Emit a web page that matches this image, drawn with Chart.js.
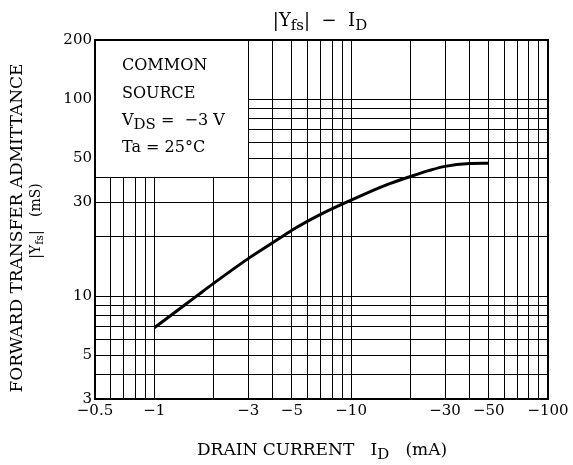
<!DOCTYPE html>
<html><head><meta charset="utf-8">
<script src="https://cdn.jsdelivr.net/npm/chart.js@4/dist/chart.umd.min.js"></script>
<style>html,body{margin:0;padding:0;background:#fff}#wrap{width:573px;height:465px;position:relative}</style>
</head><body><div id="wrap"><canvas id="c"></canvas></div>
<script>
// Data (|ID| in mA, |Yfs| in mS)
const currentMA    = [1,   1.3, 1.64, 2,    3,    4.45, 5,    7,  10,   15,   20,   25,   30,   40,   50];
const admittanceMS = [6.9, 8.4, 10,   11.6, 15.5, 20,   21.6, 26, 30.7, 36.6, 40.5, 43.5, 45.6, 47.1, 47.3];
const xGridValues = [0.5,0.6,0.7,0.8,0.9,1,2,3,4,5,6,7,8,9,10,20,30,40,50,60,70,80,90,100];
const yGridValues = [3,4,5,6,7,8,9,10,20,30,40,50,60,70,80,90,100,200];
const xTickLabels = [0.5,1,3,5,10,30,50,100];
const yTickLabels = [3,5,10,30,50,100,200];
const conditionLines = [
  [{t:'COMMON'}],
  [{t:'SOURCE'}],
  [{t:'V'},{t:'DS',sub:true},{t:' =  −3 V'}],
  [{t:'Ta = 25°C'}]
];

const F = "'DejaVu Serif', serif";
function drawRich(ctx, parts, x, y, size, subSize, subDy, align){
  let w = 0;
  parts.forEach(p => { ctx.font = (p.sub ? subSize : size) + 'px ' + F; w += ctx.measureText(p.t).width; });
  let cx = align === 'center' ? x - w/2 : (align === 'right' ? x - w : x);
  ctx.textAlign = 'left'; ctx.textBaseline = 'alphabetic'; ctx.fillStyle = '#000';
  parts.forEach(p => {
    ctx.font = (p.sub ? subSize : size) + 'px ' + F;
    ctx.fillText(p.t, cx, p.sub ? y + subDy : y);
    cx += ctx.measureText(p.t).width;
  });
}

const deco = {
  id: 'deco',
  beforeDatasetsDraw(chart){
    const {ctx, chartArea: a, scales: {x, y}} = chart;
    const al = v => Math.round(v - 0.5) + 0.5;
    const bx = al(x.getPixelForValue(3)), by = al(y.getPixelForValue(40));
    ctx.save();
    ctx.fillStyle = '#fff';
    ctx.fillRect(a.left, a.top, bx - a.left, by - a.top);
    ctx.strokeStyle = '#000'; ctx.lineWidth = 1;
    ctx.beginPath();
    ctx.moveTo(bx, a.top); ctx.lineTo(bx, by);
    ctx.moveTo(a.left, by); ctx.lineTo(bx, by);
    ctx.stroke();
    ctx.lineWidth = 2;
    ctx.strokeRect(a.left, a.top, a.right - a.left, a.bottom - a.top);
    const base = [70, 98, 125, 152];
    conditionLines.forEach((parts, i) => drawRich(ctx, parts, 122, base[i], 16, 15, 4, 'left'));
    ctx.restore();
  },
  afterDraw(chart){
    const {ctx} = chart;
    ctx.save();
    // title
    drawRich(ctx, [{t:'|Y'},{t:'fs',sub:true},{t:'|  −  I'},{t:'D',sub:true}], 320, 26, 18, 15, 4, 'center');
    // x title
    drawRich(ctx, [{t:'DRAIN CURRENT   I'},{t:'D',sub:true},{t:'   (mA)'}], 322, 455, 17, 15, 4, 'center');
    // y title
    ctx.save();
    ctx.translate(22, 228);
    ctx.rotate(-Math.PI/2);
    drawRich(ctx, [{t:'FORWARD TRANSFER ADMITTANCE'}], 0, 0, 17, 14, 4, 'center');
    ctx.restore();
    ctx.save();
    ctx.translate(40, 221);
    ctx.rotate(-Math.PI/2);
    drawRich(ctx, [{t:'|Y'},{t:'fs',sub:true},{t:'|   (mS)'}], 0, 0, 14, 11, 3, 'center');
    ctx.restore();
    ctx.restore();
  }
};

new Chart(document.getElementById('c'), {
  type: 'line',
  data: {
    datasets: [{
      data: currentMA.map((v, i) => ({x: v, y: admittanceMS[i]})),
      borderColor: '#000', borderWidth: 3, pointRadius: 0,
      cubicInterpolationMode: 'monotone', fill: false
    }]
  },
  options: {
    responsive: true, maintainAspectRatio: false, animation: false,
    layout: {padding: {top: 40, right: 25, left: 0, bottom: 0}},
    plugins: {legend: {display: false}, tooltip: {enabled: false}, title: {display: false}},
    scales: {
      x: {
        type: 'logarithmic', min: 0.5, max: 100,
        afterBuildTicks: s => { s.ticks = xGridValues.map(v => ({value: v})); },
        afterFit: s => { s.height = 66; },
        grid: {color: '#000', lineWidth: 1, drawTicks: false},
        border: {display: false},
        ticks: {autoSkip: false, maxRotation: 0, minRotation: 0, padding: 3, color: '#000',
          font: {family: F, size: 15},
          callback: v => xTickLabels.includes(v) ? '−' + v : ''}
      },
      y: {
        type: 'logarithmic', min: 3, max: 200,
        afterBuildTicks: s => { s.ticks = yGridValues.map(v => ({value: v})); },
        afterFit: s => { s.width = 95; },
        grid: {color: '#000', lineWidth: 1, drawTicks: false},
        border: {display: false},
        ticks: {autoSkip: false, padding: 3, color: '#000',
          font: {family: F, size: 15},
          callback: v => yTickLabels.includes(v) ? String(v) : ''}
      }
    }
  },
  plugins: [deco]
});
</script>
</body></html>
